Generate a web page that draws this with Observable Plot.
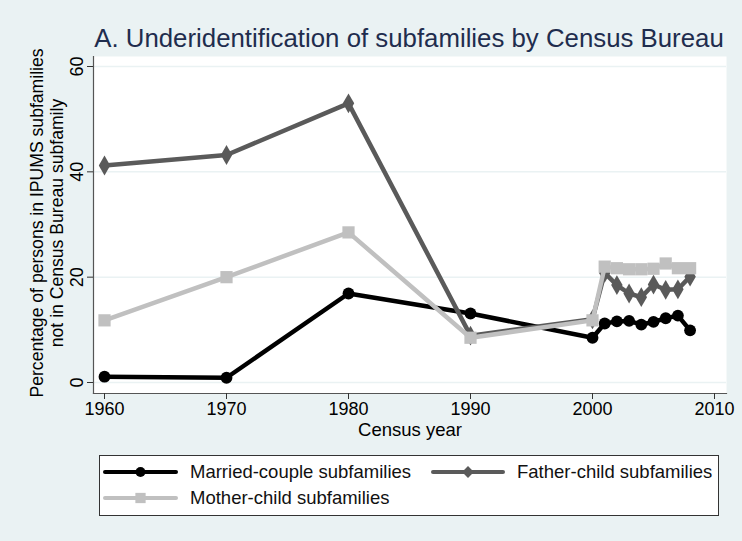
<!DOCTYPE html>
<html>
<head>
<meta charset="utf-8">
<script src="https://cdn.jsdelivr.net/npm/d3@7"></script>
<script src="https://cdn.jsdelivr.net/npm/@observablehq/plot@0.6"></script>
<style>
  html, body { margin: 0; padding: 0; background: #eaf2f3; }
  #wrap { position: relative; width: 742px; height: 541px; background: #eaf2f3; overflow: hidden;
          font-family: "Liberation Sans", Arial, sans-serif; }
  #title { position: absolute; left: 0; width: 818px; top: 23px; text-align: center;
           font-size: 25.8px; color: #1f2d4e; white-space: nowrap; line-height: 30px; }
  #plot { position: absolute; left: 0; top: 0; }
  #legend { position: absolute; left: 0; top: 420px; }
</style>
</head>
<body>
<div id="wrap">
  <div id="plot"></div>
  <div id="title">A. Underidentification of subfamilies by Census Bureau</div>
  <div id="legend"></div>
</div>
<script>
const years = [1960, 1970, 1980, 1990, 2000, 2001, 2002, 2003, 2004, 2005, 2006, 2007, 2008];
const marriedCouple = [1.1, 0.9, 16.9, 13.1, 8.5, 11.2, 11.6, 11.7, 11.0, 11.5, 12.2, 12.7, 9.9];
const fatherChild   = [41.2, 43.2, 53.0, 8.9, 12.0, 20.8, 18.5, 16.9, 16.2, 18.6, 17.6, 17.7, 20.1];
const motherChild   = [11.8, 20.0, 28.5, 8.5, 11.8, 22.0, 21.7, 21.5, 21.5, 21.6, 22.6, 21.7, 21.7];
const seriesNames = ["Married-couple subfamilies", "Father-child subfamilies", "Mother-child subfamilies"];
const seriesColors = ["#000000", "#5a5a5a", "#c0c0c0"];
const seriesSymbols = ["circle", "diamond", "square"];
const yTicks = [0, 20, 40, 60];
const xTicks = [1960, 1970, 1980, 1990, 2000, 2010];
const yTitle = "Percentage of persons in IPUMS subfamilies\nnot in Census Bureau subfamily";
const xTitle = "Census year";

const allSeries = [marriedCouple, fatherChild, motherChild];
const rows = [];
allSeries.forEach((vals, s) => years.forEach((yr, i) => rows.push({series: seriesNames[s], year: yr, value: vals[i]})));

const font = "Liberation Sans, Arial, sans-serif";
const symR = {circle: 5.9, diamond: 6.0, square: 6.9};

const marks = [
  Plot.frame({fill: "white", stroke: null}),
  Plot.ruleY(yTicks, {stroke: "#eaf2f3", strokeWidth: 1.5}),
  Plot.frame({anchor: "left", stroke: "#555", strokeWidth: 1.2}),
  Plot.frame({anchor: "bottom", stroke: "#555", strokeWidth: 1.2}),
  Plot.axisY({ticks: yTicks, tickSize: 6, tickFormat: () => "", label: null, stroke: "#333"}),
  Plot.text(yTicks, {frameAnchor: "left", y: d => d, text: d => String(d), rotate: -90, dx: -16,
    fontSize: 18, fill: "#000", lineAnchor: "middle", textAnchor: "middle"}),
  Plot.axisX({ticks: xTicks, tickSize: 6, tickPadding: 3, tickFormat: d => String(d), label: null,
    fontSize: 18, fill: "#000", stroke: "#333"}),
  Plot.text([xTitle], {frameAnchor: "bottom", text: d => d, dy: 37, fontSize: 18.5, fill: "#000", lineAnchor: "middle"}),
  Plot.text([yTitle], {frameAnchor: "left", text: d => d, rotate: -90, dx: -47, dy: -2, fontSize: 17.6,
    lineHeight: 1.12, fill: "#000", lineAnchor: "middle", textAnchor: "middle"})
];
seriesNames.forEach((name, s) => {
  const data = rows.filter(r => r.series === name);
  marks.push(Plot.line(data, {x: "year", y: "value", stroke: seriesColors[s], strokeWidth: 4.5, strokeLinejoin: "round"}));
  marks.push(Plot.dot(data, {x: "year", y: "value", fill: seriesColors[s], stroke: null,
    symbol: seriesSymbols[s], r: symR[seriesSymbols[s]]}));
});

const chart = Plot.plot({
  width: 742, height: 450,
  marginLeft: 93, marginRight: 16, marginTop: 56, marginBottom: 57,
  style: {background: "transparent", fontFamily: font},
  x: {domain: [1960, 2010], range: [104, 714], axis: null},
  y: {domain: [0, 60], range: [382, 66], axis: null},
  marks
});
document.getElementById("plot").appendChild(chart);

// Legend (drawn below the plot SVG)
const lg = d3.select("#legend").append("svg").attr("width", 742).attr("height", 121);
lg.append("rect").attr("x", 99.5).attr("y", 35.5).attr("width", 619).attr("height", 60)
  .attr("fill", "white").attr("stroke", "#333").attr("stroke-width", 1);
const keys = [
  {x0: 105, x1: 176, cy: 52, tx: 190},
  {x0: 433, x1: 503, cy: 52, tx: 517},
  {x0: 105, x1: 176, cy: 78, tx: 190}
];
const d3sym = {circle: d3.symbolCircle, diamond: d3.symbolDiamond2, square: d3.symbolSquare};
const keyR = {circle: 5, diamond: 5.3, square: 5.8};
keys.forEach((k, s) => {
  lg.append("line").attr("x1", k.x0).attr("x2", k.x1).attr("y1", k.cy).attr("y2", k.cy)
    .attr("stroke", seriesColors[s]).attr("stroke-width", 4).attr("stroke-linecap", "round");
  const sym = seriesSymbols[s];
  lg.append("path").attr("transform", `translate(${(k.x0 + k.x1) / 2},${k.cy})`)
    .attr("d", d3.symbol(d3sym[sym], Math.PI * keyR[sym] * keyR[sym])())
    .attr("fill", seriesColors[s]);
  lg.append("text").attr("x", k.tx).attr("y", k.cy).attr("dy", "0.35em")
    .attr("font-family", font).attr("font-size", 18.5).attr("fill", "#111").text(seriesNames[s]);
});
</script>
</body>
</html>
